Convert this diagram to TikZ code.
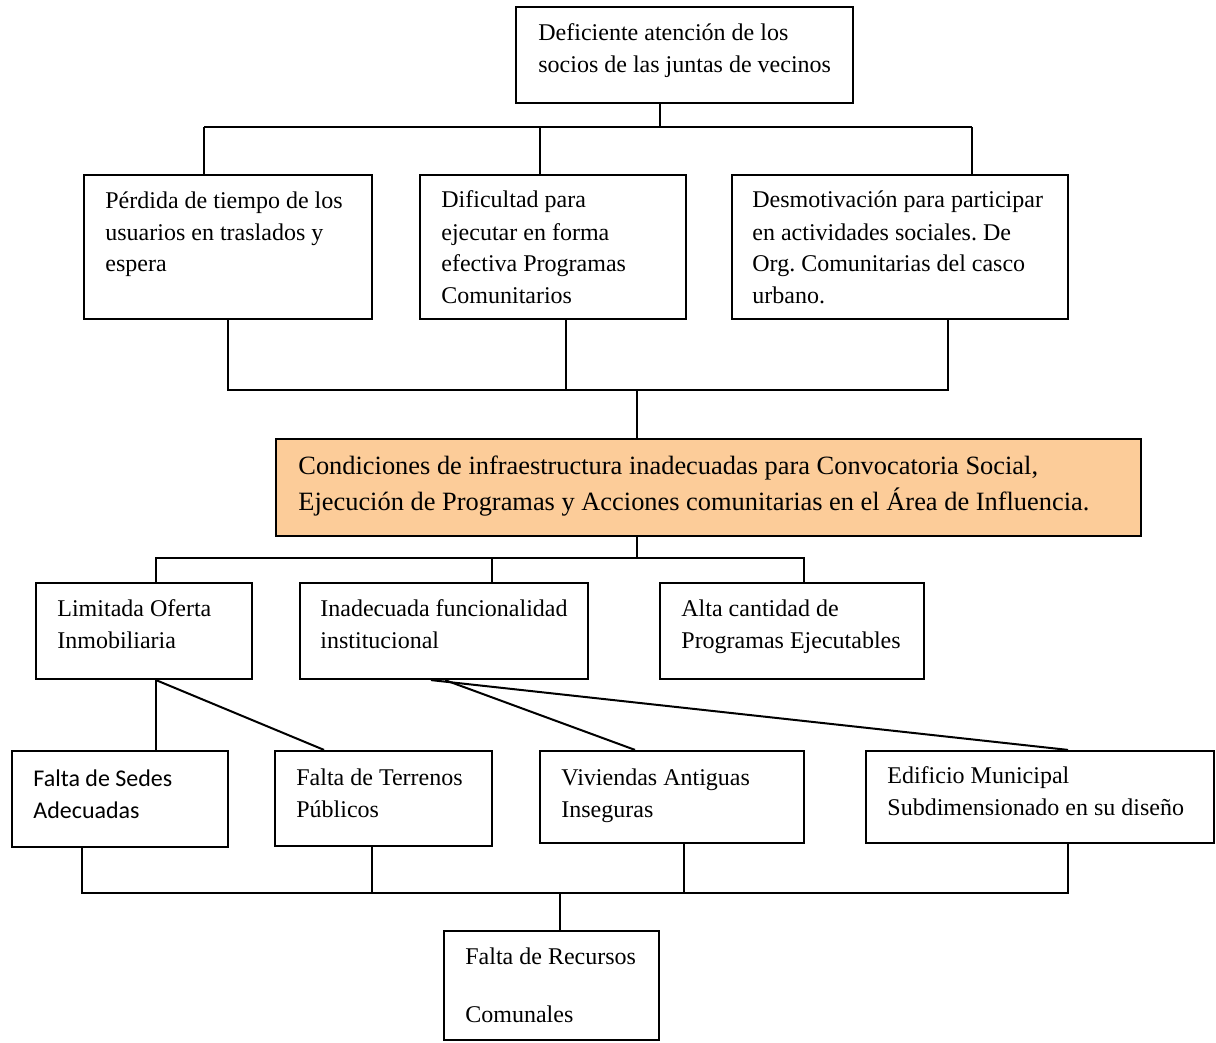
\documentclass[tikz,border=0pt]{standalone}
\usepackage{fontspec}
\setmainfont{Liberation Serif}
\newfontfamily\calibrifont{Carlito}
\usetikzlibrary{fit}
\definecolor{corefill}{RGB}{252,204,153}
\frenchspacing
\begin{document}
\begin{tikzpicture}[x={(0.5pt,0)},y={(0,-0.5pt)},
  boxst/.style={draw, line width=1.1pt, inner sep=0pt},
  conn/.style={line width=1pt},
  txt/.style={anchor=base west, inner sep=0pt, align=left, font=\fontsize{12pt}{16pt}\selectfont\frenchspacing},
  sanstxt/.style={txt, font=\calibrifont\fontsize{12pt}{16pt}\selectfont\frenchspacing}]
\useasboundingbox (0,0) rectangle (1216,1043);

% boxes
\node[boxst, fit={(516,7) (853,103)}] (top) {};
\node[boxst, fit={(84,175) (372,319)}] (b1) {};
\node[boxst, fit={(420,175) (686,319)}] (b2) {};
\node[boxst, fit={(732,175) (1068,319)}] (b3) {};
\node[boxst, fill=corefill, fit={(276,439) (1141,536)}] (core) {};
\node[boxst, fit={(36,583) (252,679)}] (l1) {};
\node[boxst, fit={(300,583) (588,679)}] (l2) {};
\node[boxst, fit={(660,583) (924,679)}] (l3) {};
\node[boxst, fit={(12,751) (228,847)}] (s1) {};
\node[boxst, fit={(275,751) (492,846)}] (s2) {};
\node[boxst, fit={(540,751) (804,843)}] (s3) {};
\node[boxst, fit={(866,751) (1214,843)}] (s4) {};
\node[boxst, fit={(444,931) (659,1040)}] (fr) {};

% texts (anchored at the baseline of their last line)
\node[txt] (top-t) at (538,73) {Deficiente atención de los\\socios de las juntas de vecinos};
\node[txt] (b1-t) at (105,272) {Pérdida de tiempo de los\\usuarios en traslados y\\espera};
\node[txt] (b2-t) at (441,304) {Dificultad para\\ejecutar en forma\\efectiva Programas\\Comunitarios};
\node[txt] (b3-t) at (752,304) {Desmotivación para participar\\en actividades sociales. De\\Org. Comunitarias del casco\\urbano.};
\node[txt, font=\fontsize{13.2pt}{18pt}\selectfont\frenchspacing] (core-t) at (298,510) {Condiciones de infraestructura inadecuadas para Convocatoria Social,\\Ejecución de Programas y Acciones comunitarias en el Área de Influencia.};
\node[txt] (l1-t) at (57,648) {Limitada Oferta\\Inmobiliaria};
\node[txt] (l2-t) at (320,648) {Inadecuada funcionalidad\\institucional};
\node[txt] (l3-t) at (681,648) {Alta cantidad de\\Programas Ejecutables};
\node[sanstxt] (s1-t) at (33,818) {Falta de Sedes\\Adecuadas};
\node[txt] (s2-t) at (296,817) {Falta de Terrenos\\Públicos};
\node[txt] (s3-t) at (561,817) {Viviendas Antiguas\\Inseguras};
\node[txt] (s4-t) at (887,815) {Edificio Municipal\\Subdimensionado en su diseño};
\node[txt, font=\fontsize{12pt}{29pt}\selectfont] (fr-t) at (465,1022) {Falta de Recursos\\Comunales};

% level 1 connectors
\coordinate (c1) at (660,127);
\coordinate (bL) at (204,127);
\coordinate (bM) at (540,127);
\coordinate (bR) at (972,127);
\draw[conn] (c1 |- top.south) -- (c1);
\draw[conn] (bL) -- (bR);
\draw[conn] (bL) -- (bL |- b1.north);
\draw[conn] (bM) -- (bM |- b2.north);
\draw[conn] (bR) -- (bR |- b3.north);

% level 2 connectors
\coordinate (d1) at (228,390);
\coordinate (d2) at (566,390);
\coordinate (d3) at (948,390);
\coordinate (d0) at (637,390);
\draw[conn] (d1 |- b1.south) -- (d1) -- (d3) -- (d3 |- b3.south);
\draw[conn] (d2 |- b2.south) -- (d2);
\draw[conn] (d0) -- (d0 |- core.north);

% level 3 connectors
\coordinate (e0) at (637,558);
\coordinate (e1) at (156,558);
\coordinate (e2) at (492,558);
\coordinate (e3) at (804,558);
\draw[conn] (e0 |- core.south) -- (e0);
\draw[conn] (e1 |- l1.north) -- (e1) -- (e3) -- (e3 |- l3.north);
\draw[conn] (e2) -- (e2 |- l2.north);

% level 4 connectors
\coordinate (g1) at (156,679);
\coordinate (g2) at (324,751);
\coordinate (h1) at (445,679);
\coordinate (h2) at (431,679);
\coordinate (h3) at (635,751);
\coordinate (h4) at (1068,751);
\draw[conn] (g1 |- l1.south) -- (g1 |- s1.north);
\draw[conn] (g1 |- l1.south) -- (g2 |- s2.north);
\draw[conn] (h1 |- l2.south) -- (h3 |- s3.north);
\draw[conn] (h2 |- l2.south) -- (h4 |- s4.north);

% level 5 connectors
\coordinate (k1) at (82,893);
\coordinate (k2) at (372,893);
\coordinate (k3) at (684,893);
\coordinate (k4) at (1068,893);
\coordinate (k0) at (560,893);
\draw[conn] (k1 |- s1.south) -- (k1) -- (k4) -- (k4 |- s4.south);
\draw[conn] (k2 |- s2.south) -- (k2);
\draw[conn] (k3 |- s3.south) -- (k3);
\draw[conn] (k0) -- (k0 |- fr.north);
\end{tikzpicture}
\end{document}
